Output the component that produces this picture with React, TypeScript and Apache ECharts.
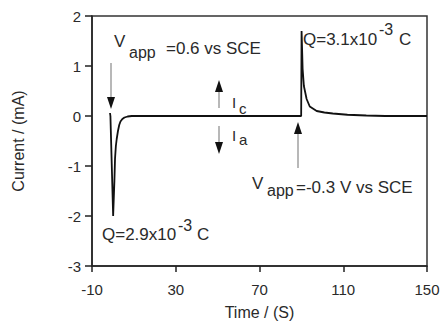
import React, { useEffect, useRef } from "react";
import * as echarts from "echarts";

const timeS = [-1.4, -1.2, 0.1, 0.4, 0.7, 1.0, 1.4, 1.8, 2.4, 3.0, 3.6, 4.5, 5.5, 7.0, 9.0, 30, 60, 89.9, 90.1, 90.4, 90.6, 91.2, 92.5, 94, 97.3, 101, 105, 112, 121, 130, 150];
const currentMA = [0.06, 0.0, -2.0, -2.0, -1.3, -0.85, -0.6, -0.46, -0.3, -0.18, -0.11, -0.06, -0.03, -0.01, 0, 0, 0, 0, 1.7, 1.25, 0.94, 0.6, 0.34, 0.19, 0.1, 0.07, 0.05, 0.025, 0.01, 0, 0];
const xTicks = { min: -10, max: 150, interval: 40 };
const yTicks = { min: -3, max: 2, interval: 1 };

const FONT = '"Liberation Sans", Arial, Helvetica, sans-serif';
const TXT = "#2a2a2a";

function txt(text: string, x: number, y: number, size: number) {
  return {
    type: "text",
    x,
    y,
    style: { text, fontSize: size, fontFamily: FONT, fill: TXT, align: "left", verticalAlign: "middle" },
  };
}

function arrow(x: number, tipY: number, headY: number, tailY: number) {
  return [
    { type: "line", shape: { x1: x, y1: tailY, x2: x, y2: headY }, style: { stroke: "#b8b8b8", lineWidth: 2 } },
    {
      type: "polygon",
      shape: { points: [[x, tipY], [x - 4, headY], [x + 4, headY]] },
      style: { fill: "#111" },
    },
  ];
}

export default function App() {
  const ref = useRef<HTMLDivElement>(null);
  useEffect(() => {
    if (!ref.current) return;
    const chart = echarts.init(ref.current, null, { renderer: "svg" });
    const data = timeS.map((t, i) => [t, currentMA[i]]);
    chart.setOption({
      animation: false,
      backgroundColor: "#fff",
      grid: { left: 92, right: 16, top: 16, bottom: 58, show: true, borderColor: "#333", borderWidth: 1.5 },
      xAxis: {
        type: "value",
        min: xTicks.min,
        max: xTicks.max,
        interval: xTicks.interval,
        name: "Time / (S)",
        nameLocation: "middle",
        nameGap: 38,
        nameTextStyle: { fontSize: 16, fontFamily: FONT, color: TXT },
        axisLine: { onZero: false, lineStyle: { color: "#222", width: 1.5 } },
        axisTick: { inside: false, length: 6, lineStyle: { color: "#222", width: 1.5 } },
        axisLabel: { fontSize: 15, fontFamily: FONT, color: TXT, margin: 16 },
        splitLine: { show: false },
      },
      yAxis: {
        type: "value",
        min: yTicks.min,
        max: yTicks.max,
        interval: yTicks.interval,
        name: "Current / (mA)",
        nameLocation: "middle",
        nameGap: 66,
        nameTextStyle: { fontSize: 16, fontFamily: FONT, color: TXT },
        axisLine: { onZero: false, lineStyle: { color: "#222", width: 1.5 } },
        axisTick: { inside: false, length: 7, lineStyle: { color: "#222", width: 1.5 } },
        axisLabel: { fontSize: 15, fontFamily: FONT, color: TXT, margin: 11 },
        splitLine: { show: false },
      },
      series: [
        {
          type: "line",
          data,
          showSymbol: false,
          symbol: "none",
          lineStyle: { color: "#111", width: 1.8 },
        },
      ],
      graphic: [
        ...arrow(111, 109, 97, 63),
        ...arrow(219, 80, 92, 108),
        ...arrow(219, 154, 142, 126),
        ...arrow(298, 122, 134, 168),
        txt("V", 114, 41, 17),
        txt("app", 129, 52, 16),
        txt("=0.6 vs SCE", 166, 48, 17),
        txt("I", 232, 102, 15),
        txt("c", 239, 108, 15),
        txt("I", 232, 135, 15),
        txt("a", 239, 139, 15),
        txt("V", 252, 183, 17),
        txt("app", 267, 190, 16),
        txt("=-0.3 V vs SCE", 296, 187, 17),
        txt("Q=3.1x10", 303, 39, 17),
        txt("-3", 379, 29, 16),
        txt("C", 399, 39, 17),
        txt("Q=2.9x10", 102, 234, 17),
        txt("-3", 178, 225, 16),
        txt("C", 197, 234, 17),
      ],
    });
    return () => chart.dispose();
  }, []);
  return <div ref={ref} style={{ width: 443, height: 325, position: "absolute", left: 0, top: 0 }} />;
}
